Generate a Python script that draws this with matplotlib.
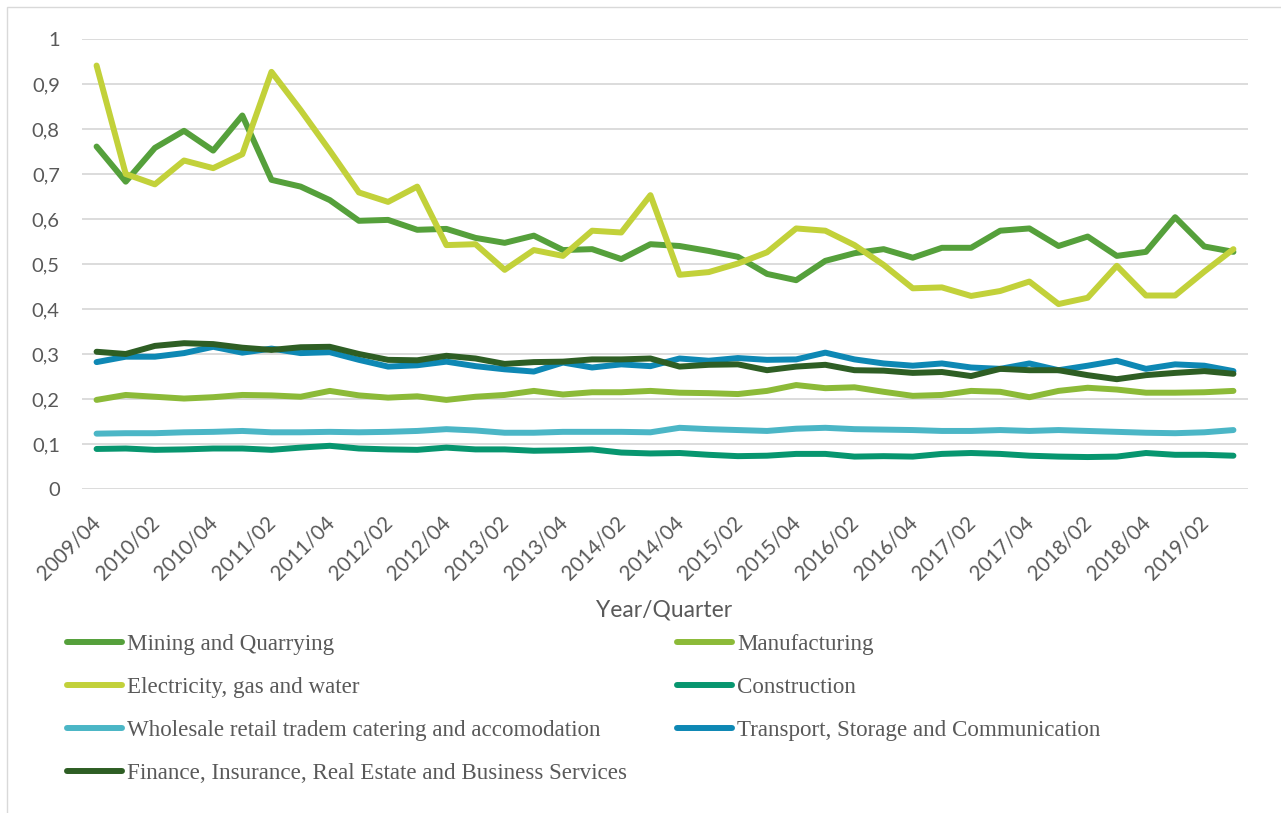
import matplotlib
matplotlib.use("Agg")
import matplotlib.pyplot as plt
from matplotlib.lines import Line2D
from matplotlib.patches import Rectangle
from matplotlib.transforms import ScaledTranslation

# ---- data -------------------------------------------------------------
quarters = [
    "2009/04", "2010/01", "2010/02", "2010/03", "2010/04",
    "2011/01", "2011/02", "2011/03", "2011/04",
    "2012/01", "2012/02", "2012/03", "2012/04",
    "2013/01", "2013/02", "2013/03", "2013/04",
    "2014/01", "2014/02", "2014/03", "2014/04",
    "2015/01", "2015/02", "2015/03", "2015/04",
    "2016/01", "2016/02", "2016/03", "2016/04",
    "2017/01", "2017/02", "2017/03", "2017/04",
    "2018/01", "2018/02", "2018/03", "2018/04",
    "2019/01", "2019/02", "2019/03",
]

mining = [0.761, 0.683, 0.758, 0.796, 0.752, 0.830, 0.687, 0.672, 0.642, 0.596,
          0.598, 0.576, 0.578, 0.558, 0.547, 0.563, 0.531, 0.533, 0.511, 0.544,
          0.540, 0.529, 0.516, 0.478, 0.464, 0.507, 0.524, 0.533, 0.514, 0.536,
          0.536, 0.574, 0.579, 0.540, 0.561, 0.518, 0.527, 0.604, 0.539, 0.527]

manufacturing = [0.198, 0.209, 0.205, 0.201, 0.204, 0.209, 0.208, 0.205, 0.218, 0.208,
                 0.203, 0.206, 0.198, 0.205, 0.209, 0.218, 0.210, 0.215, 0.215, 0.218,
                 0.214, 0.213, 0.211, 0.218, 0.231, 0.224, 0.226, 0.216, 0.207, 0.209,
                 0.218, 0.216, 0.204, 0.218, 0.225, 0.221, 0.214, 0.214, 0.215, 0.218]

electricity = [0.941, 0.700, 0.677, 0.730, 0.713, 0.744, 0.927, 0.842, 0.752, 0.659,
               0.638, 0.672, 0.542, 0.544, 0.487, 0.531, 0.518, 0.574, 0.570, 0.653,
               0.476, 0.482, 0.501, 0.526, 0.579, 0.574, 0.542, 0.498, 0.446, 0.448,
               0.429, 0.440, 0.461, 0.411, 0.425, 0.496, 0.430, 0.430, 0.483, 0.533]

construction = [0.089, 0.090, 0.087, 0.088, 0.090, 0.090, 0.087, 0.092, 0.096, 0.090,
                0.088, 0.087, 0.092, 0.088, 0.088, 0.085, 0.086, 0.088, 0.081, 0.079,
                0.080, 0.076, 0.073, 0.074, 0.078, 0.078, 0.072, 0.073, 0.072, 0.078,
                0.080, 0.078, 0.074, 0.072, 0.071, 0.072, 0.080, 0.076, 0.076, 0.074]

wholesale = [0.123, 0.124, 0.124, 0.126, 0.127, 0.129, 0.126, 0.126, 0.127, 0.126,
             0.127, 0.129, 0.133, 0.130, 0.125, 0.125, 0.127, 0.127, 0.127, 0.126,
             0.136, 0.133, 0.131, 0.129, 0.134, 0.136, 0.133, 0.132, 0.131, 0.129,
             0.129, 0.131, 0.129, 0.131, 0.129, 0.127, 0.125, 0.124, 0.126, 0.131]

transport = [0.282, 0.294, 0.294, 0.302, 0.316, 0.303, 0.312, 0.302, 0.304, 0.287,
             0.272, 0.275, 0.283, 0.273, 0.266, 0.261, 0.281, 0.270, 0.277, 0.273,
             0.290, 0.285, 0.291, 0.287, 0.288, 0.303, 0.288, 0.279, 0.274, 0.279,
             0.270, 0.267, 0.279, 0.264, 0.274, 0.285, 0.267, 0.277, 0.274, 0.262]

finance = [0.305, 0.300, 0.318, 0.324, 0.322, 0.314, 0.309, 0.315, 0.316, 0.300,
           0.287, 0.286, 0.296, 0.290, 0.278, 0.282, 0.283, 0.288, 0.288, 0.290,
           0.272, 0.276, 0.277, 0.264, 0.272, 0.276, 0.264, 0.263, 0.258, 0.260,
           0.251, 0.267, 0.264, 0.264, 0.253, 0.244, 0.253, 0.258, 0.262, 0.256]

series_names = [
    "Mining and Quarrying",
    "Manufacturing",
    "Electricity, gas and water",
    "Construction",
    "Wholesale retail tradem catering and accomodation",
    "Transport, Storage and Communication",
    "Finance, Insurance, Real Estate and Business Services",
]
series_values = [mining, manufacturing, electricity, construction,
                 wholesale, transport, finance]
series_colors = ["#55A03B", "#8CBA38", "#C2D13A", "#07966F",
                 "#4BB6C6", "#0E88B4", "#2E5E24"]

y_ticks = [0, 0.1, 0.2, 0.3, 0.4, 0.5, 0.6, 0.7, 0.8, 0.9, 1.0]
y_tick_labels = ["0", "0,1", "0,2", "0,3", "0,4", "0,5", "0,6", "0,7", "0,8", "0,9", "1"]

# ---- figure -------------------------------------------------------------
W, H = 1281, 813
fig = plt.figure(figsize=(W / 100, H / 100), dpi=100)
fig.patch.set_facecolor("white")


def fx(px):
    return px / W


def fy(py):
    return 1 - py / H


# chart-area border
fig.add_artist(Rectangle((fx(7), -0.2), 1.5, fy(7) + 0.2, transform=fig.transFigure,
                         fill=False, edgecolor="#D9D9D9", linewidth=1.0))

left, right, top, bottom = 82, 1248, 39, 489
ax = fig.add_axes([fx(left), fy(bottom), fx(right - left), (bottom - top) / H])

x = list(range(len(quarters)))
lw = 4.3
for vals, col in zip(series_values, series_colors):
    ax.plot(x, vals, color=col, linewidth=lw, solid_capstyle="round",
            solid_joinstyle="round")

ax.set_xlim(-0.5, len(quarters) - 0.5)
ax.set_ylim(0, 1)
ax.set_yticks(y_ticks)
ax.set_yticklabels(y_tick_labels)
ax.set_xticks(x[::2])
ax.set_xticklabels(quarters[::2])

ax.grid(axis="y", color="#D9D9D9", linewidth=1.3)
ax.set_axisbelow(True)
for s in ax.spines.values():
    s.set_visible(False)

ax.tick_params(axis="both", length=0)
ax.tick_params(axis="y", pad=16)
ax.tick_params(axis="x", pad=17)
for lab in ax.get_yticklabels():
    lab.set_fontfamily("Lato")
    lab.set_fontsize(14.5)
    lab.set_color("#595959")
shift = ScaledTranslation(-6 / 100, 0, fig.dpi_scale_trans)
for lab in ax.get_xticklabels():
    lab.set_fontfamily("Lato")
    lab.set_fontsize(14.8)
    lab.set_color("#595959")
    lab.set_rotation(45)
    lab.set_ha("right")
    lab.set_va("top")
    lab.set_rotation_mode("anchor")
    lab.set_transform(lab.get_transform() + shift)

fig.text(fx(664), fy(610), "Year/Quarter", ha="center", va="center",
         family="Lato", fontsize=16.5, color="#595959")

# ---- legend (two columns, row-major order) -------------------------------
col_x = [(67, 122, 127), (677, 732, 737)]
row_y = [641.7, 684.7, 727.7, 771.0]
for i, (name, col) in enumerate(zip(series_names, series_colors)):
    r, c = divmod(i, 2)
    x0, x1, xt = col_x[c]
    y = row_y[r]
    fig.add_artist(Line2D([fx(x0), fx(x1)], [fy(y), fy(y)], transform=fig.transFigure,
                          color=col, linewidth=lw, solid_capstyle="round"))
    fig.text(fx(xt), fy(y), name, ha="left", va="center_baseline",
             family="Liberation Serif", fontsize=16.6, color="#595959")

fig.savefig("out.png", dpi=100, facecolor="white")
